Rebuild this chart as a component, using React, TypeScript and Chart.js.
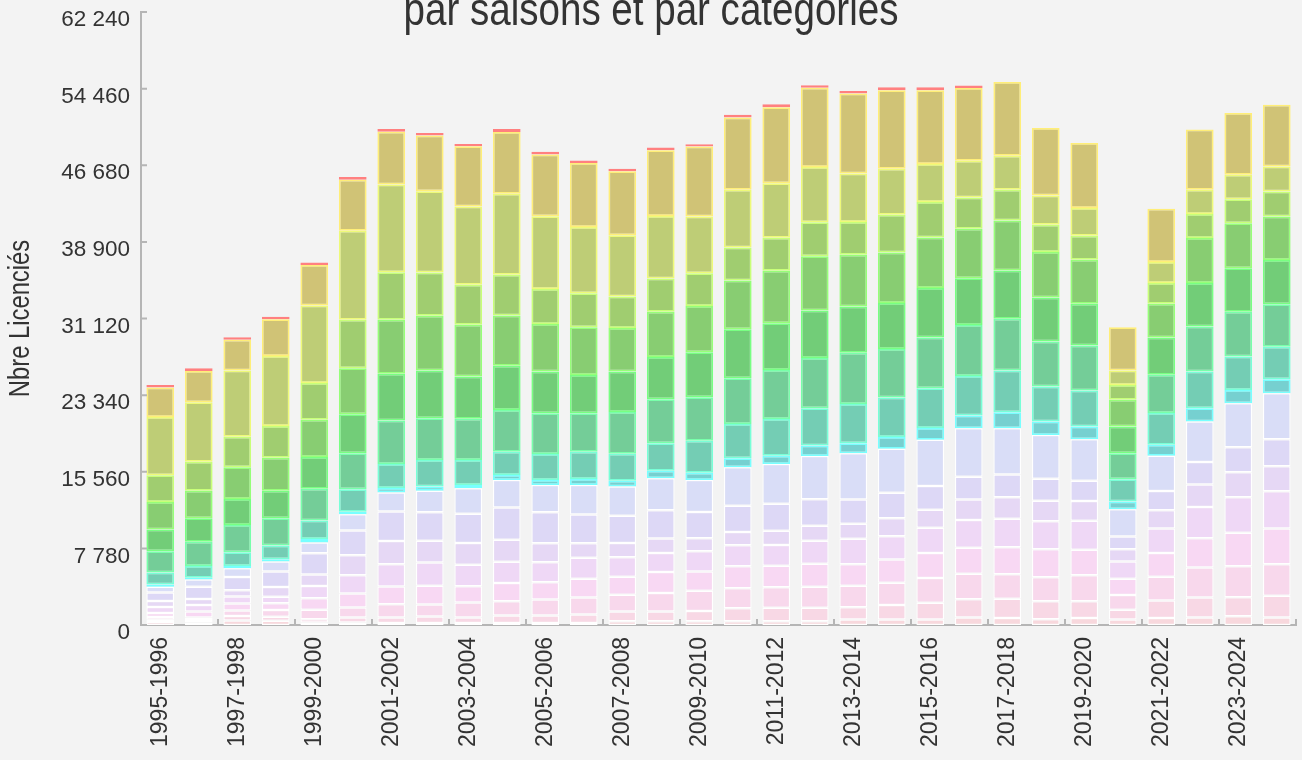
import React, { useEffect, useRef } from 'react';
import { Chart, registerables } from 'chart.js';

Chart.register(...registerables);

// ---------- DATA ----------
const seasons = [
  '1995-1996', '1996-1997', '1997-1998', '1998-1999', '1999-2000', '2000-2001',
  '2001-2002', '2002-2003', '2003-2004', '2004-2005', '2005-2006', '2006-2007',
  '2007-2008', '2008-2009', '2009-2010', '2010-2011', '2011-2012', '2012-2013',
  '2013-2014', '2014-2015', '2015-2016', '2016-2017', '2017-2018', '2018-2019',
  '2019-2020', '2020-2021', '2021-2022', '2022-2023', '2023-2024', '2024-2025',
];

const yTickValues = [0, 7780, 15560, 23340, 31120, 38900, 46680, 54460, 62240];

const titleText = 'par saisons et par catégories';
const yAxisTitle = 'Nbre Licenciés';

const seriesNames = [
  'Catégorie 1', 'Catégorie 2', 'Catégorie 3', 'Catégorie 4', 'Catégorie 5', 'Catégorie 6',
  'Catégorie 7', 'Catégorie 8', 'Catégorie 9', 'Catégorie 10', 'Catégorie 11', 'Catégorie 12',
  'Catégorie 13', 'Catégorie 14', 'Catégorie 15', 'Catégorie 16', 'Catégorie 17',
];

// bottom (pink) -> top (red)
const cat1 = [300, 250, 460, 430, 250, 250, 200, 200, 200, 200, 200, 200, 390, 390, 390, 390, 390, 390, 560, 560, 560, 760, 710, 590, 710, 560, 710, 760, 890, 760];
const cat2 = [230, 250, 460, 420, 330, 510, 560, 660, 560, 760, 760, 860, 970, 990, 1020, 1310, 1360, 1360, 1250, 1470, 1700, 1860, 1960, 1830, 1710, 990, 1780, 2030, 1930, 2200];
const cat3 = [270, 250, 560, 680, 970, 1020, 1350, 1220, 1520, 1450, 1630, 1730, 1700, 1860, 2070, 2030, 2090, 2140, 2170, 2270, 2520, 2580, 2490, 2440, 2630, 1500, 2420, 3050, 3150, 3210];
const cat4 = [410, 630, 710, 680, 1170, 1420, 1800, 1900, 1660, 1850, 1760, 1900, 1830, 2130, 1940, 2240, 2170, 2330, 2190, 2340, 2540, 2640, 2740, 2840, 2600, 1650, 2390, 2970, 3390, 3630];
const cat5 = [610, 640, 710, 670, 1230, 1850, 2270, 2370, 2180, 2160, 2030, 2130, 1980, 1930, 2080, 2130, 2110, 2340, 2590, 2380, 2560, 2820, 2900, 2840, 2940, 1760, 2490, 3160, 3610, 3790];
const cat6 = [610, 610, 630, 990, 1170, 2030, 2340, 2200, 2200, 2240, 1930, 1480, 1450, 1490, 1310, 1330, 1440, 1520, 1510, 1830, 1810, 2080, 2180, 2070, 1990, 1220, 1870, 2290, 2540, 2540];
const cat7 = [860, 1250, 1350, 1570, 2170, 2520, 3000, 2910, 2970, 3270, 3150, 2920, 2780, 2870, 2670, 2680, 2740, 2700, 2470, 2590, 2420, 2320, 2290, 2240, 2070, 1300, 1940, 2290, 2550, 2740];
const cat8 = [590, 750, 880, 1000, 1080, 1650, 1930, 2180, 2590, 2790, 2760, 3000, 2960, 3250, 3250, 3910, 4040, 4390, 4690, 4450, 4690, 4920, 4710, 4450, 4220, 2780, 3580, 4110, 4460, 4660];
const cat9 = [240, 160, 230, 240, 350, 260, 450, 410, 340, 510, 510, 610, 580, 740, 740, 910, 840, 1050, 1020, 1190, 1190, 1280, 1630, 1350, 1280, 770, 1120, 1360, 1350, 1420];
const cat10 = [1220, 1190, 1390, 1380, 1890, 2280, 2440, 2710, 2540, 2370, 2640, 2770, 2740, 2810, 3250, 3480, 3730, 3800, 3990, 4020, 4060, 4030, 4230, 3560, 3660, 2280, 3220, 3720, 3380, 3310];
const cat11 = [2160, 2470, 2770, 2780, 3220, 3660, 4430, 4240, 4170, 4240, 4140, 3900, 4240, 4470, 4410, 4640, 4980, 5080, 5210, 4920, 5140, 5180, 5250, 4570, 4570, 2640, 3890, 4570, 4550, 4310];
const cat12 = [2200, 2380, 2640, 2800, 3220, 3960, 4740, 4840, 4300, 4470, 4230, 3890, 4120, 4270, 4570, 4980, 4740, 4840, 4700, 4670, 5020, 4740, 4910, 4470, 4240, 2700, 3790, 4410, 4420, 4500];
const cat13 = [2800, 2800, 3220, 3350, 3790, 4670, 5490, 5560, 5250, 5110, 4820, 4850, 4410, 4610, 4700, 4940, 5340, 5490, 5250, 5140, 5140, 5010, 5080, 4610, 4470, 2710, 3420, 4570, 4580, 4400];
const cat14 = [2710, 2950, 3110, 3220, 3730, 4910, 4810, 4400, 4060, 4130, 3560, 3450, 3210, 3380, 3320, 3350, 3350, 3450, 3320, 3830, 3600, 3180, 3120, 2770, 2440, 1520, 2100, 2440, 2430, 2540];
const cat15 = [5920, 6030, 6710, 7110, 7880, 9040, 8910, 8230, 7960, 8230, 7380, 6710, 6200, 6330, 5750, 5860, 5530, 5630, 4910, 4670, 3860, 3730, 3450, 2980, 2810, 1450, 2130, 2470, 2480, 2540];
const cat16 = [2990, 3180, 3120, 3730, 4100, 5180, 5350, 5660, 6100, 6270, 6270, 6500, 6500, 6680, 7110, 7350, 7720, 8030, 8130, 7960, 7480, 7390, 7490, 6850, 6600, 4410, 5420, 6100, 6270, 6270];
const cat17 = [250, 270, 270, 260, 260, 270, 300, 270, 240, 300, 270, 260, 270, 270, 240, 270, 300, 260, 270, 300, 300, 260, 0, 0, 0, 0, 0, 0, 0, 0];

const seriesValues = [cat1, cat2, cat3, cat4, cat5, cat6, cat7, cat8, cat9, cat10, cat11, cat12, cat13, cat14, cat15, cat16, cat17];

// ---------- STYLE ----------
const fillColors = [
  '#f8d8dd', '#f8d8e5', '#f8d8ec', '#f8d8f3', '#efd8f6', '#e6d8f5', '#ddd8f6', '#d9ddf7',
  '#76d0d0', '#74cdb4', '#74cd98', '#72cd78', '#88cd72', '#a0cd70', '#becd76', '#d0c376', '#ff8080',
];
const borderColors = [
  '#ffffff', '#ffffff', '#ffffff', '#ffffff', '#ffffff', '#ffffff', '#ffffff', '#ffffff',
  '#78ffff', '#78ffd7', '#78ffaa', '#78ff82', '#96ff78', '#c8ff78', '#eefa78', '#ffee78', '#ff8080',
];
const borderWidths = [1.25, 1.25, 1.25, 1.25, 1.25, 1.25, 1.25, 1.25, 1.75, 1.75, 1.75, 1.75, 1.75, 1.75, 1.75, 1.75, 1.75];

const BG = '#f3f3f3';
const AXIS = '#b5b5b5';
const TEXT = '#333333';
const SANS = "'Liberation Sans', Arial, sans-serif";
const NARROW_SCALE = 0.82; // Arial Narrow-like compression

const fmt = (v: number) => String(Math.round(v)).replace(/\B(?=(\d{3})+(?!\d))/g, ' ');

// Title (cut at the top of the page) and y-axis title, drawn in a narrow face
const textPlugin = {
  id: 'narrowTexts',
  afterDraw(chart: any) {
    const ctx = chart.ctx;
    const area = chart.chartArea;
    ctx.save();
    ctx.fillStyle = TEXT;
    ctx.font = `47px ${SANS}`;
    ctx.textAlign = 'center';
    ctx.textBaseline = 'alphabetic';
    ctx.translate(chart.width / 2, 25);
    ctx.scale(NARROW_SCALE, 1);
    ctx.fillText(titleText, 0, 0);
    ctx.restore();

    ctx.save();
    ctx.fillStyle = TEXT;
    ctx.font = `29px ${SANS}`;
    ctx.textAlign = 'center';
    ctx.textBaseline = 'alphabetic';
    ctx.translate(29, (area.top + area.bottom) / 2);
    ctx.rotate(-Math.PI / 2);
    ctx.scale(NARROW_SCALE, 1);
    ctx.fillText(yAxisTitle, 0, 0);
    ctx.restore();
  },
};

const innerTicksPlugin = {
  id: 'innerTicks',
  afterDatasetsDraw(chart: any) {
    const { ctx, chartArea, scales } = chart;
    const xs = scales.x;
    const ys = scales.y;
    ctx.save();
    ctx.strokeStyle = AXIS;
    ctx.lineWidth = 2;
    ctx.beginPath();
    ys.ticks.forEach((_t: any, i: number) => {
      const py = ys.getPixelForTick(i);
      ctx.moveTo(chartArea.left, py);
      ctx.lineTo(chartArea.left + 6, py);
    });
    const half = (xs.getPixelForValue(1) - xs.getPixelForValue(0)) / 2;
    xs.ticks.forEach((t: any) => {
      const px = xs.getPixelForValue(t.value) - half;
      ctx.moveTo(px, chartArea.bottom);
      ctx.lineTo(px, chartArea.bottom - 6);
    });
    ctx.moveTo(chartArea.right, chartArea.bottom);
    ctx.lineTo(chartArea.right, chartArea.bottom - 6);
    ctx.stroke();
    ctx.restore();
  },
};

export default function App() {
  const ref = useRef<HTMLCanvasElement | null>(null);

  useEffect(() => {
    if (!ref.current) return;
    const datasets = seriesValues.map((data, i) => ({
      label: seriesNames[i],
      data,
      backgroundColor: fillColors[i],
      borderColor: borderColors[i],
      borderWidth: borderWidths[i],
      borderSkipped: false as const,
      categoryPercentage: 0.8,
      barPercentage: 0.9,
    }));

    const chart = new Chart(ref.current, {
      type: 'bar',
      data: { labels: seasons, datasets },
      plugins: [textPlugin, innerTicksPlugin],
      options: {
        animation: false,
        responsive: false,
        maintainAspectRatio: false,
        layout: { padding: { top: 12, right: 6, bottom: 0, left: 0 } },
        plugins: {
          legend: { display: false },
          title: { display: false },
          tooltip: { enabled: false },
        },
        scales: {
          x: {
            stacked: true,
            grid: { display: false, drawTicks: false },
            border: { display: true, color: AXIS, width: 2 },
            ticks: {
              color: TEXT,
              font: { family: SANS, size: 23 },
              minRotation: 90,
              maxRotation: 90,
              autoSkip: true,
              maxTicksLimit: 15,
              padding: 12,
            },
            afterFit: (s: any) => {
              s.height = 135;
              s.paddingLeft = 0;
              s.paddingRight = 0;
            },
          },
          y: {
            stacked: true,
            min: 0,
            max: yTickValues[yTickValues.length - 1],
            afterBuildTicks: (s: any) => {
              s.ticks = yTickValues.map((v) => ({ value: v }));
            },
            grid: { display: false, drawTicks: false },
            border: { display: true, color: AXIS, width: 2 },
            ticks: {
              color: TEXT,
              font: { family: SANS, size: 22.5, lineHeight: 1 },
              padding: 11,
              labelOffset: 8,
              callback: (v: any) => fmt(Number(v)),
            },
            title: { display: false },
            afterFit: (s: any) => {
              s.width = 141;
              s.paddingTop = 0;
              s.paddingBottom = 0;
            },
          },
        },
      },
    });
    return () => chart.destroy();
  }, []);

  return (
    <div style={{ position: 'fixed', left: 0, top: 0, width: 1302, height: 760, background: BG }}>
      <canvas ref={ref} width={1302} height={760} style={{ display: 'block' }} />
    </div>
  );
}
